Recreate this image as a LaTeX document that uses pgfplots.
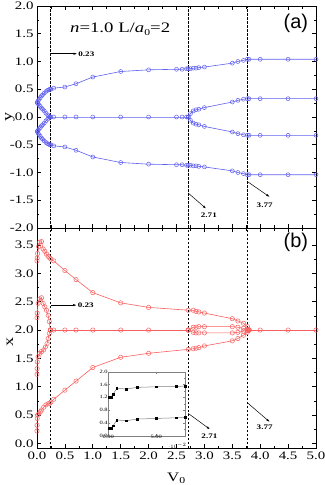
\documentclass[border=0pt]{standalone}
\usepackage{fontspec}
\setmainfont[FakeStretch=1.3]{Liberation Serif}
\newfontfamily\labsans{Liberation Sans}
\usepackage{pgfplots}
\pgfplotsset{compat=1.18}
\usetikzlibrary{arrows.meta}

\definecolor{bl}{RGB}{95,95,240}
\definecolor{rd}{RGB}{250,95,95}

\pgfplotsset{
  panel/.style={
    scale only axis, width=279bp, xmin=0, xmax=5,
    xtick={0,0.5,1,1.5,2,2.5,3,3.5,4,4.5,5}, minor x tick num=1, minor y tick num=1,
    tick align=inside, tick pos=both,
    major tick length=4bp, minor tick length=2.5bp,
    axis line style={line width=0.8bp},
    every tick/.style={black, line width=0.6bp},
    tick label style={font=\fontsize{11.5}{12}\selectfont},
    /pgf/number format/assume math mode=true,
    /pgf/number format/fixed, /pgf/number format/fixed zerofill,
    /pgf/number format/precision=1,
    clip=false,
  },
  bser/.style={bl, line width=0.6bp, mark=o, mark size=2bp, mark options={line width=0.5bp}},
  rser/.style={rd, line width=0.6bp, mark=o, mark size=2.2bp, mark options={line width=0.5bp}},
}
\tikzset{
  vline/.style={black, line width=0.6bp, dash pattern=on 2.5bp off 1.5bp},
  arr/.style={black, line width=0.5bp, -{Latex[length=3.5bp,width=2.2bp]}},
  lab/.style={font=\bfseries\fontsize{7}{7}\selectfont, inner sep=0.5bp},
}

\begin{document}
\begin{tikzpicture}
% (a)
\begin{axis}[panel, at={(0bp,0bp)}, anchor=south west, height=222bp,
  ymin=-2, ymax=2, ytick={-2,-1.5,-1,-0.5,0,0.5,1,1.5,2}, xticklabels={},
  ylabel={y}, ylabel style={font=\fontsize{14}{14}\selectfont, at={(axis description cs:-0.097,0.5)}, anchor=center}]
\addplot[bser] coordinates {(0.005,0.26) (0.02,0.29) (0.04,0.32) (0.06,0.35) (0.08,0.38) (0.1,0.4) (0.13,0.43) (0.16,0.46) (0.19,0.48) (0.21,0.49) (0.23,0.5) (0.25,0.5) (0.3,0.52) (0.5,0.54) (0.7,0.6) (1.0,0.72) (1.5,0.82) (2.0,0.85) (2.5,0.86) (2.6,0.86) (2.68,0.87) (2.71,0.87) (2.75,0.87) (2.8,0.88) (2.85,0.88) (2.9,0.89) (3.0,0.9) (3.5,0.97) (3.6,1.0) (3.7,1.02) (3.77,1.04) (3.8,1.04) (4.0,1.04) (4.5,1.04) (5.0,1.04)};
\addplot[bser] coordinates {(0.005,0.26) (0.02,0.24) (0.04,0.21) (0.06,0.19) (0.08,0.16) (0.1,0.14) (0.13,0.11) (0.16,0.07) (0.19,0.04) (0.21,0.02) (0.23,0.0)};
\addplot[bser] coordinates {(0.005,-0.26) (0.02,-0.24) (0.04,-0.21) (0.06,-0.19) (0.08,-0.16) (0.1,-0.14) (0.13,-0.11) (0.16,-0.07) (0.19,-0.04) (0.21,-0.02) (0.23,0.0)};
\addplot[bser] coordinates {(0.23,0) (0.25,0) (0.3,0) (0.5,0) (0.7,0) (1.0,0) (1.5,0) (2.0,0) (2.5,0) (2.6,0) (2.68,0) (2.71,0)};
\addplot[bser] coordinates {(2.71,0) (2.75,0.06) (2.8,0.11) (2.85,0.13) (2.9,0.14) (3.0,0.17) (3.5,0.27) (3.6,0.3) (3.7,0.32) (3.77,0.33) (3.8,0.33) (4.0,0.33) (4.5,0.33) (5.0,0.33)};
\addplot[bser] coordinates {(2.71,0) (2.75,-0.06) (2.8,-0.11) (2.85,-0.13) (2.9,-0.14) (3.0,-0.17) (3.5,-0.27) (3.6,-0.3) (3.7,-0.32) (3.77,-0.33) (3.8,-0.33) (4.0,-0.33) (4.5,-0.33) (5.0,-0.33)};
\addplot[bser] coordinates {(0.005,-0.26) (0.02,-0.29) (0.04,-0.32) (0.06,-0.35) (0.08,-0.38) (0.1,-0.4) (0.13,-0.43) (0.16,-0.46) (0.19,-0.48) (0.21,-0.49) (0.23,-0.5) (0.25,-0.5) (0.3,-0.52) (0.5,-0.54) (0.7,-0.6) (1.0,-0.72) (1.5,-0.82) (2.0,-0.85) (2.5,-0.86) (2.6,-0.86) (2.68,-0.87) (2.71,-0.87) (2.75,-0.87) (2.8,-0.88) (2.85,-0.88) (2.9,-0.89) (3.0,-0.9) (3.5,-0.97) (3.6,-1.0) (3.7,-1.02) (3.77,-1.04) (3.8,-1.04) (4.0,-1.04) (4.5,-1.04) (5.0,-1.04)};
\draw[vline] (axis cs:0.23,-2) -- (axis cs:0.23,2);
\draw[vline] (axis cs:2.71,-2) -- (axis cs:2.71,2);
\draw[vline] (axis cs:3.77,-2) -- (axis cs:3.77,2);
\draw[arr] (axis cs:0.25,1.14) -- (axis cs:0.72,1.14);
\node[lab, anchor=west] at (axis cs:0.73,1.14) {0.23};
\draw[arr] (axis cs:2.71,-1.37) -- (axis cs:3.03,-1.65);
\node[lab] at (axis cs:3.08,-1.77) {2.71};
\draw[arr] (axis cs:3.78,-1.17) -- (axis cs:4.17,-1.44);
\node[lab] at (axis cs:4.08,-1.59) {3.77};
\node[anchor=base west, inner sep=0pt, font=\fontsize{14.5}{15}\selectfont] at (axis cs:0.59,1.53) {\textit{n}=1.0 L/\textit{a}\raisebox{-3bp}{\fontsize{9}{9}\selectfont 0}=2};
\node[font=\labsans\fontsize{20}{20}\selectfont, inner sep=0pt] at (axis cs:4.64,1.69) {(a)};
\end{axis}

% (b)
\begin{axis}[panel, at={(0bp,0bp)}, anchor=north west, height=220bp,
  ymin=-0.08, ymax=3.8, ytick={0,0.5,1,1.5,2,2.5,3,3.5},
  ylabel={x}, ylabel style={font=\fontsize{14}{14}\selectfont, at={(axis description cs:-0.097,0.48)}, anchor=center},
  xlabel={V\textsubscript{0}}, xlabel style={font=\fontsize{13}{13}\selectfont, yshift=-7bp}]
\addplot[rser] coordinates {(0.0,3.22) (0.003,3.27) (0.01,3.35) (0.03,3.47) (0.05,3.55) (0.08,3.56) (0.11,3.43) (0.14,3.39) (0.17,3.34) (0.2,3.3) (0.23,3.27) (0.25,3.25) (0.3,3.22) (0.5,3.05) (0.7,2.89) (1.0,2.66) (1.5,2.48) (2.0,2.4) (2.71,2.35) (2.8,2.35) (2.85,2.33) (2.9,2.32) (3.0,2.3) (3.5,2.2) (3.6,2.16) (3.7,2.12) (3.77,2.06) (3.8,2.0)};
\addplot[rser] coordinates {(0.0,2.22) (0.003,2.3) (0.02,2.47) (0.05,2.55) (0.08,2.57) (0.11,2.47) (0.14,2.41) (0.17,2.35) (0.2,2.26) (0.22,2.15) (0.24,2.0)};
\addplot[rser] coordinates {(0.0,1.22) (0.002,1.32) (0.004,1.44) (0.02,1.53) (0.05,1.59) (0.08,1.62) (0.12,1.65) (0.15,1.7) (0.18,1.76) (0.2,1.85) (0.22,1.94) (0.24,2.0)};
\addplot[rser] coordinates {(0.24,2) (0.3,2) (0.5,2) (0.7,2) (1.0,2) (1.5,2) (2.0,2) (2.71,2)};
\addplot[rser] coordinates {(2.71,2) (2.8,2.05) (2.85,2.05) (2.9,2.06) (3.0,2.06) (3.5,2.06) (3.6,2.05) (3.7,2.03) (3.77,2.01) (3.8,2.0)};
\addplot[rser] coordinates {(2.71,2) (2.8,1.96) (2.85,1.95) (2.9,1.95) (3.0,1.95) (3.5,1.95) (3.6,1.96) (3.7,1.98) (3.77,1.99) (3.8,2.0)};
\addplot[rser] coordinates {(3.8,2) (4.0,2) (4.5,2) (5.0,2)};
\addplot[rser] coordinates {(0.0,0.22) (0.002,0.32) (0.004,0.44) (0.01,0.5) (0.03,0.52) (0.06,0.56) (0.08,0.59) (0.12,0.64) (0.16,0.68) (0.2,0.7) (0.23,0.71) (0.25,0.73) (0.3,0.78) (0.5,0.94) (0.7,1.1) (1.0,1.34) (1.5,1.52) (2.0,1.59) (2.71,1.66) (2.8,1.67) (2.85,1.68) (2.9,1.69) (3.0,1.72) (3.5,1.81) (3.6,1.85) (3.7,1.91) (3.77,1.96) (3.8,2.0)};
\draw[vline] (axis cs:0.23,-0.08) -- (axis cs:0.23,3.8);
\draw[vline] (axis cs:2.71,-0.08) -- (axis cs:2.71,3.8);
\draw[vline] (axis cs:3.77,-0.08) -- (axis cs:3.77,3.8);
\draw[arr] (axis cs:0.25,2.44) -- (axis cs:0.71,2.44);
\node[lab, anchor=west] at (axis cs:0.72,2.44) {0.23};
\draw[arr] (axis cs:2.71,0.53) -- (axis cs:3.1,0.25);
\node[lab] at (axis cs:3.09,0.12) {2.71};
\draw[arr] (axis cs:3.78,0.71) -- (axis cs:4.17,0.38);
\node[lab] at (axis cs:4.08,0.29) {3.77};
\node[font=\labsans\fontsize{20}{20}\selectfont, inner sep=0pt] at (axis cs:4.64,3.55) {(b)};
\end{axis}

% inset
\begin{axis}[at={(71.3bp,-207.7bp)}, anchor=south west, scale only axis,
  width=76.7bp, height=64bp, xmin=0, xmax=0.08, ymin=0, ymax=2,
  xtick={0,0.05}, ytick={0,0.4,0.8,1.2,1.6,2.0}, minor y tick num=1,
  tick align=inside, tick pos=both, major tick length=2bp, minor tick length=1bp,
  axis line style={gray, line width=0.4bp}, every tick/.style={gray, line width=0.4bp},
  axis background/.style={fill=white},
  tick label style={font=\fontsize{5}{5}\selectfont, inner sep=0.4bp},
  /pgf/number format/assume math mode=true,
  /pgf/number format/fixed, /pgf/number format/fixed zerofill,
  yticklabel style={/pgf/number format/precision=1},
  xticklabel style={/pgf/number format/precision=2, yshift=0.8bp}]
\addplot[gray, line width=0.5bp, mark=square*, mark size=0.8bp, mark options={black}] coordinates {(0.0005,1.2) (0.003,1.2) (0.005,1.3) (0.009,1.48) (0.019,1.46) (0.03,1.51) (0.05,1.53) (0.071,1.54) (0.08,1.55)};
\addplot[gray, line width=0.5bp, mark=square*, mark size=0.8bp, mark options={black}] coordinates {(0.0005,0.23) (0.003,0.23) (0.005,0.31) (0.009,0.49) (0.019,0.47) (0.03,0.52) (0.05,0.54) (0.071,0.56) (0.08,0.57)};
\end{axis}
\pgfresetboundingbox
\path (-37bp,-257bp) rectangle (288bp,228bp);
\end{tikzpicture}
\end{document}
